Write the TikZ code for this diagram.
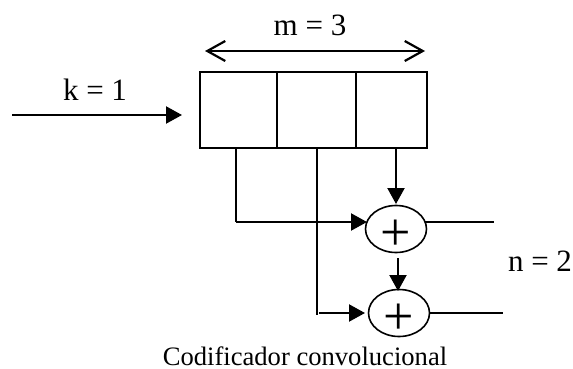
\documentclass[tikz,border=0pt]{standalone}
\usepackage{fontspec}
\setmainfont{Liberation Serif}
\usetikzlibrary{arrows.meta,shapes.geometric}
\tikzset{
  wire/.style={line width=2.2pt,black},
  thinwire/.style={line width=1.6pt,black},
  feed/.style={wire,-{Triangle[length=16pt,width=17pt]}},
  spanarrow/.style={line width=2.2pt,{Straight Barb[length=18pt,width=20pt,line width=2.2pt]}-{Straight Barb[length=18pt,width=20pt,line width=2.2pt]}},
  cell/.style={draw,line width=1.9pt,minimum height=76pt,inner sep=0pt,outer sep=0pt},
  adder/.style={draw,ellipse,line width=1.6pt,minimum width=61pt,minimum height=47pt,inner sep=0pt,outer sep=0pt},
  plussign/.style={inner sep=0pt,font=\fontsize{54pt}{54pt}\selectfont},
  lbl/.style={inner sep=0pt,font=\fontsize{31pt}{31pt}\selectfont},
  captext/.style={inner sep=0pt,font=\fontsize{26.6pt}{27pt}\selectfont}
}
\begin{document}
\begin{tikzpicture}[x=1pt,y=-1pt]
\useasboundingbox (0,0) rectangle (573,369);
\node[lbl] (m) at (310,25) {m = 3};
\node[lbl] (k) at (95,90) {k = 1};
\node[lbl] (n) at (540,261) {n = 2};
\node[captext] (c) at (305,356.5) {Codificador convolucional};
\coordinate (sl) at (205,51);
\coordinate (sr) at (425,51);
\draw[spanarrow] (sl) -- (sr);
\node[cell,minimum width=77pt,anchor=north west] (c1) at (200,72) {};
\node[cell,minimum width=79pt,anchor=north west] (c2) at (277,72) {};
\node[cell,minimum width=71pt,anchor=north west] (c3) at (356,72) {};
\coordinate (in) at (12,115);
\coordinate (ine) at (182,115);
\draw[feed] (in) -- (ine);
\node[adder] (a1) at (396,229) {};
\node[adder] (a2) at (399,313) {};
\node[plussign] (p1) at (396,235) {+};
\node[plussign] (p2) at (399,319) {+};
\coordinate (t1) at (236,148);
\coordinate (t2) at (317,148);
\coordinate (t3) at (396,148);
\coordinate (j1) at (236,222);
\coordinate (j1e) at (367,222);
\coordinate (j2) at (317,315);
\coordinate (j2s) at (319,313);
\coordinate (j2e) at (365,313);
\draw[wire] (t1) -- (j1);
\draw[feed] (j1) -- (j1e);
\draw[thinwire] (t2) -- (j2);
\draw[feed] (j2s) -- (j2e);
\coordinate (t3e) at (396,204);
\draw[feed] (t3) -- (t3e);
\coordinate (b1) at (398,258);
\coordinate (b2) at (398,291);
\draw[feed] (b1) -- (b2);
\coordinate (o1) at (494,222);
\coordinate (o1s) at (425,222);
\coordinate (o2) at (503,313);
\coordinate (o2s) at (430,313);
\draw[thinwire] (o1s) -- (o1);
\draw[thinwire] (o2s) -- (o2);
\end{tikzpicture}
\end{document}
